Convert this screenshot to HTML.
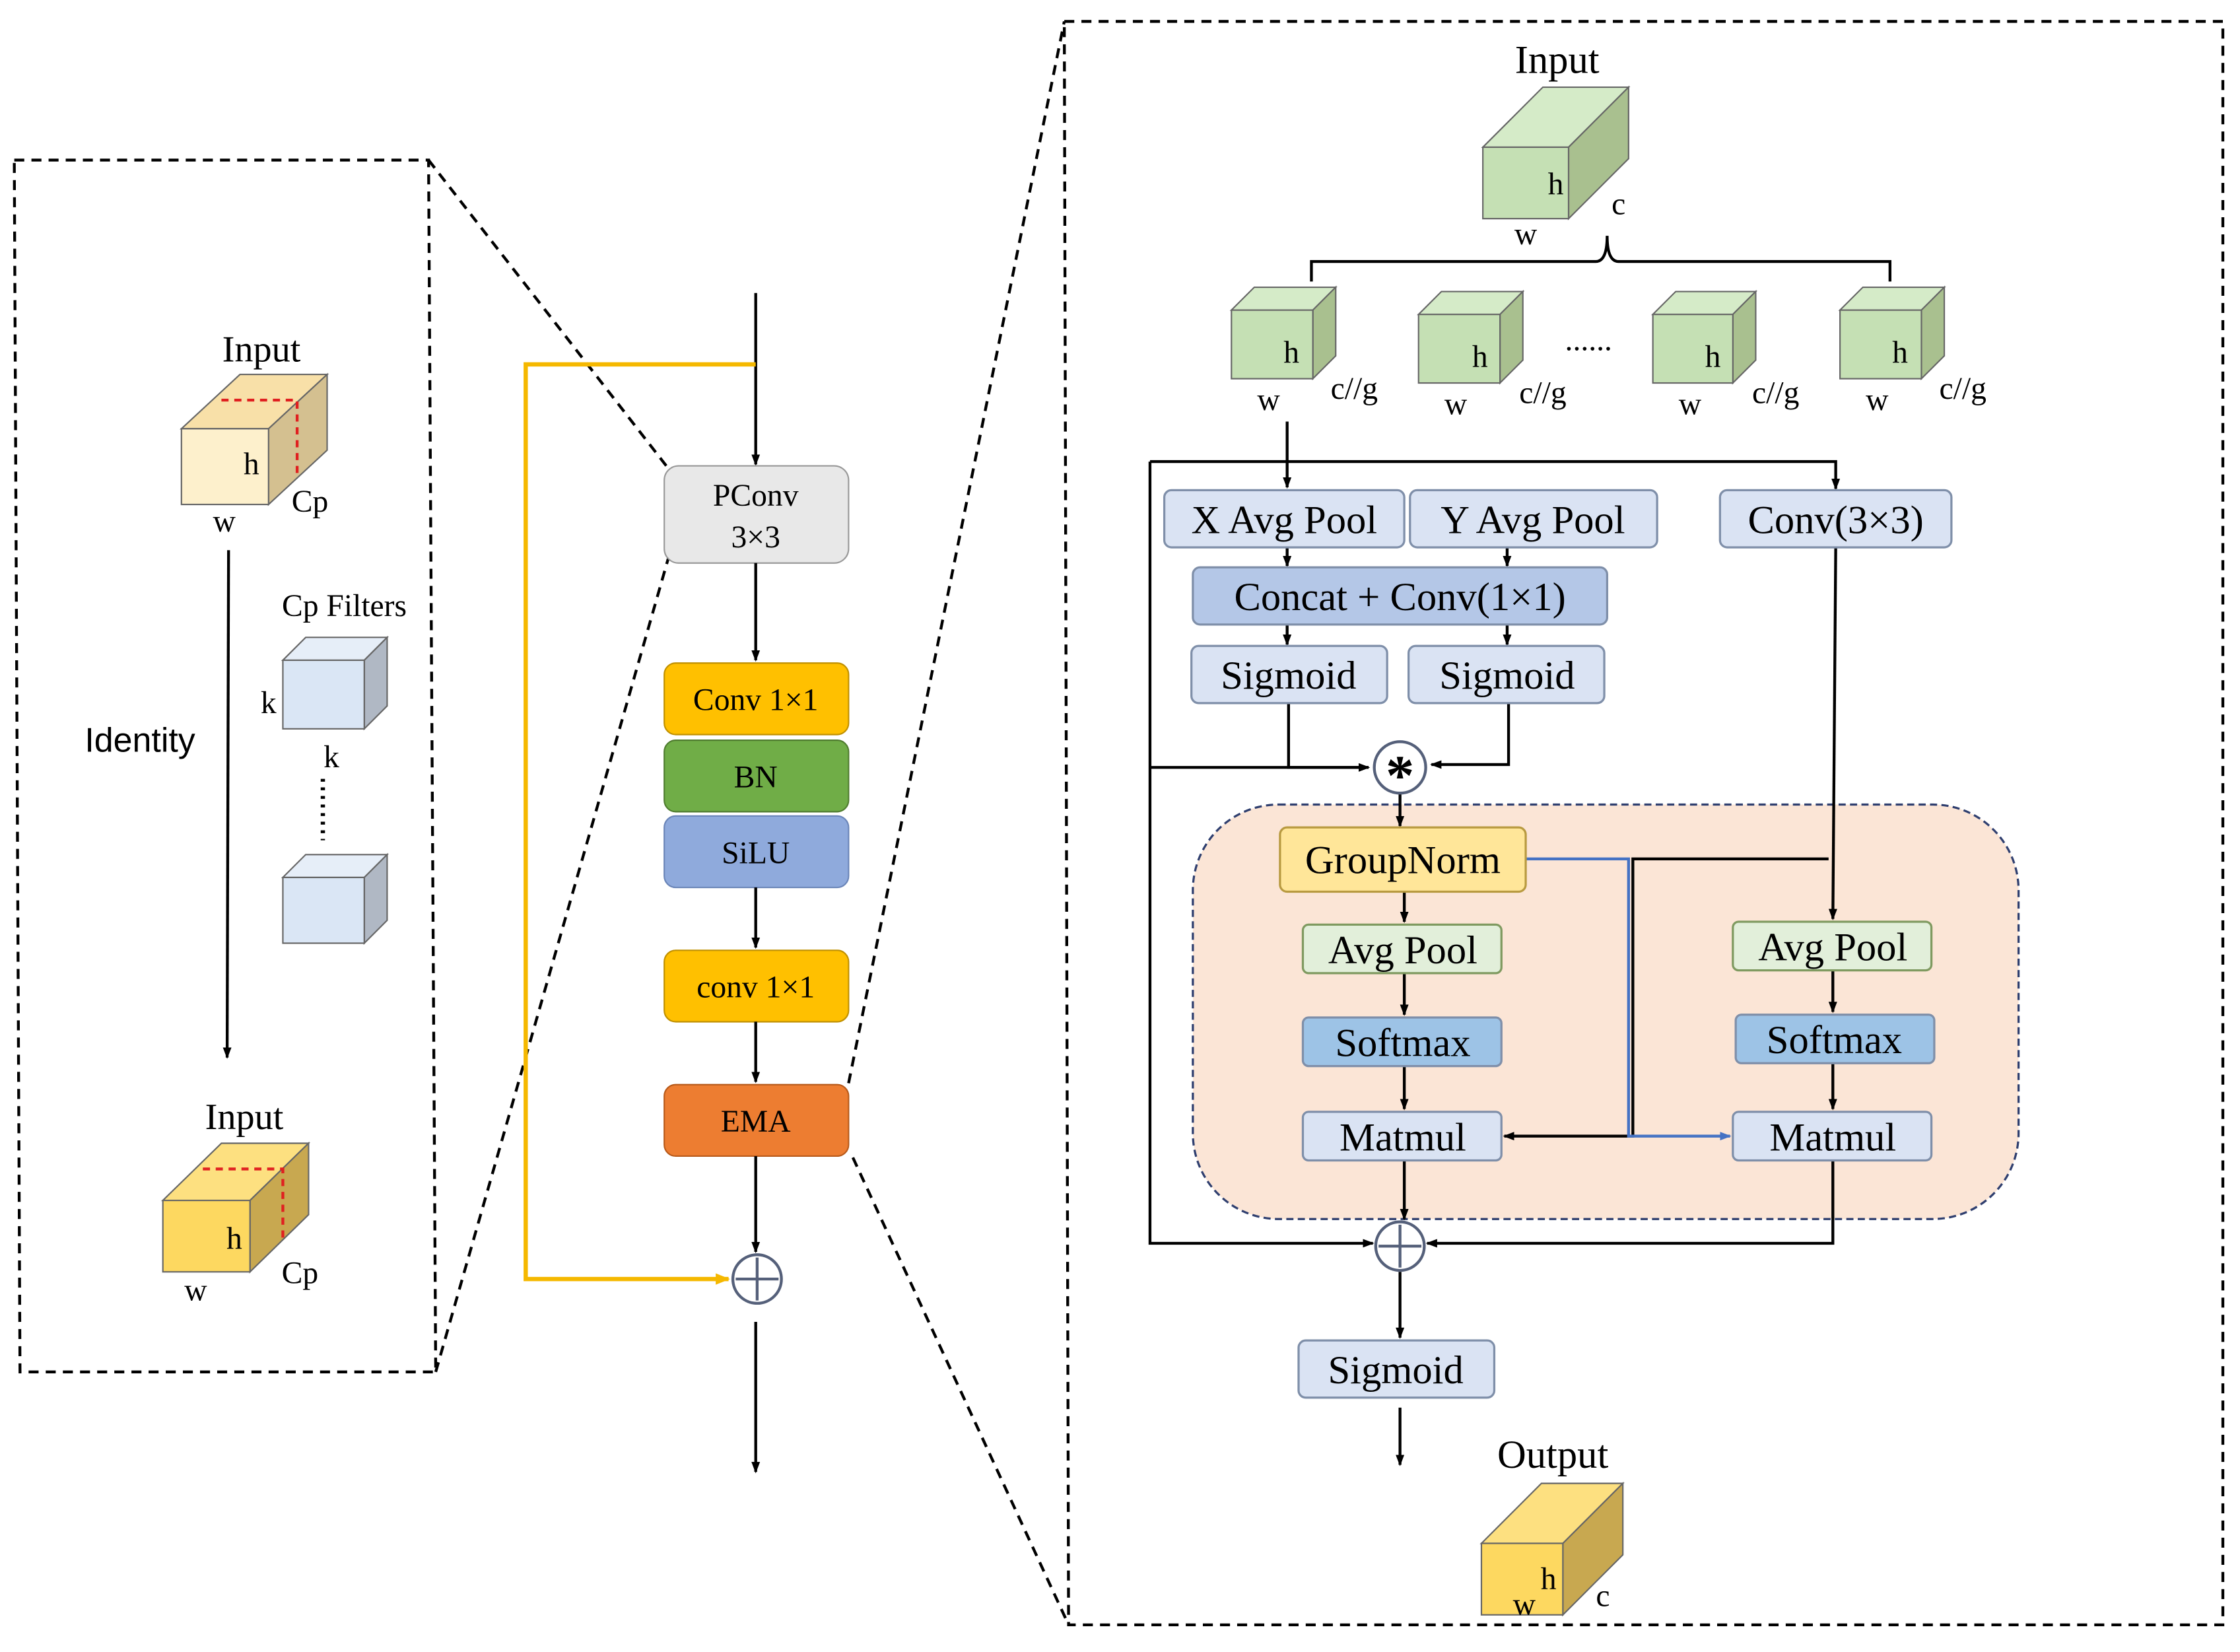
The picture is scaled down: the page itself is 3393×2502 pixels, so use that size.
<!DOCTYPE html>
<html><head><meta charset="utf-8"><style>
html,body{margin:0;padding:0;background:#fff;}
svg{display:block;}
text{font-family:"Liberation Serif",serif;fill:#000;}
</style></head><body>
<svg width="3393" height="2502" viewBox="0 0 1568 1156" preserveAspectRatio="none" xmlns="http://www.w3.org/2000/svg">
<defs>
<marker id="a" markerWidth="8" markerHeight="8" refX="7" refY="4" orient="auto" markerUnits="userSpaceOnUse"><path d="M0,1 L8,4 L0,7 z" fill="#000"/></marker>
<marker id="ab" markerWidth="8" markerHeight="8" refX="7" refY="4" orient="auto" markerUnits="userSpaceOnUse"><path d="M0,1 L8,4 L0,7 z" fill="#4472c4"/></marker>
<marker id="ay" markerWidth="10" markerHeight="10" refX="9" refY="5" orient="auto" markerUnits="userSpaceOnUse"><path d="M0,1 L10,5 L0,9 z" fill="#f5b800"/></marker>
</defs>
<rect width="1568" height="1156" fill="#fff"/>

<!-- Left dashed box -->
<g fill="none" stroke="#000" stroke-width="2" stroke-dasharray="7,5">
<path d="M10,112 L300,112 L305,960 L14,960 Z"/>
<line x1="300" y1="112" x2="468" y2="328"/>
<line x1="305" y1="960" x2="468" y2="390"/>
<line x1="594" y1="758" x2="745" y2="15"/>
<line x1="597" y1="810" x2="748" y2="1137"/>
<path d="M745,15 L1556,15 L1556,1137 L748,1137 Z"/>
</g>

<!-- Left input cube -->
<text x="183" y="253" font-size="26" text-anchor="middle">Input</text>
<polygon points="127,300 168,262 229,262 188,300" fill="#f8e0a8" stroke="#666"/>
<polygon points="188,300 229,262 229,315 188,353" fill="#d4c090" stroke="#666"/>
<rect x="127" y="300" width="61" height="53" fill="#fdf0cc" stroke="#666"/>
<path d="M155,280 L208,280 L208,333" fill="none" stroke="#e02020" stroke-width="2" stroke-dasharray="5,4"/>
<text x="176" y="332" font-size="22" text-anchor="middle">h</text>
<text x="157" y="372" font-size="22" text-anchor="middle">w</text>
<text x="217" y="358" font-size="22" text-anchor="middle">Cp</text>
<line x1="160" y1="385" x2="159" y2="740" stroke="#000" stroke-width="2" marker-end="url(#a)"/>
<text x="98" y="526" font-size="24" text-anchor="middle" style="font-family:'Liberation Sans',sans-serif">Identity</text>
<text x="241" y="431" font-size="22" text-anchor="middle">Cp Filters</text>
<polygon points="198,462 214,446 271,446 255,462" fill="#e6eef8" stroke="#666"/>
<polygon points="255,462 271,446 271,494 255,510" fill="#b0b8c4" stroke="#666"/>
<rect x="198" y="462" width="57" height="48" fill="#dae6f5" stroke="#666"/>
<text x="188" y="499" font-size="22" text-anchor="middle">k</text>
<text x="232" y="537" font-size="22" text-anchor="middle">k</text>
<line x1="226" y1="545" x2="226" y2="588" stroke="#000" stroke-width="3" stroke-dasharray="2,4"/>
<polygon points="198,614 214,598 271,598 255,614" fill="#e6eef8" stroke="#666"/>
<polygon points="255,614 271,598 271,644 255,660" fill="#b0b8c4" stroke="#666"/>
<rect x="198" y="614" width="57" height="46" fill="#dae6f5" stroke="#666"/>

<!-- Left output cube -->
<text x="171" y="790" font-size="26" text-anchor="middle">Input</text>
<polygon points="114,840 155,800 216,800 175,840" fill="#fde080" stroke="#666"/>
<polygon points="175,840 216,800 216,850 175,890" fill="#c8a850" stroke="#666"/>
<rect x="114" y="840" width="61" height="50" fill="#fdd860" stroke="#666"/>
<path d="M142,818 L198,818 L198,866" fill="none" stroke="#e02020" stroke-width="2" stroke-dasharray="5,4"/>
<text x="164" y="874" font-size="22" text-anchor="middle">h</text>
<text x="137" y="910" font-size="22" text-anchor="middle">w</text>
<text x="210" y="898" font-size="22" text-anchor="middle">Cp</text>

<!-- Middle column -->
<line x1="529" y1="205" x2="529" y2="325" stroke="#000" stroke-width="2" marker-end="url(#a)"/>
<polyline points="529,255 368,255 368,895 510,895" fill="none" stroke="#f5b800" stroke-width="3" marker-end="url(#ay)"/>
<rect x="465" y="326" width="129" height="68" rx="10" fill="#e8e8e8" stroke="#999"/>
<text x="529" y="354" font-size="22" text-anchor="middle">PConv</text>
<text x="529" y="383" font-size="22" text-anchor="middle">3×3</text>
<line x1="529" y1="394" x2="529" y2="462" stroke="#000" stroke-width="2" marker-end="url(#a)"/>
<rect x="465" y="464" width="129" height="50" rx="8" fill="#ffc000" stroke="#c09000"/>
<text x="529" y="497" font-size="22" text-anchor="middle">Conv 1×1</text>
<rect x="465" y="518" width="129" height="50" rx="8" fill="#70ad47" stroke="#507d30"/>
<text x="529" y="551" font-size="22" text-anchor="middle">BN</text>
<rect x="465" y="571" width="129" height="50" rx="8" fill="#8faadc" stroke="#6a85b8"/>
<text x="529" y="604" font-size="22" text-anchor="middle">SiLU</text>
<line x1="529" y1="621" x2="529" y2="663" stroke="#000" stroke-width="2" marker-end="url(#a)"/>
<rect x="465" y="665" width="129" height="50" rx="8" fill="#ffc000" stroke="#c09000"/>
<text x="529" y="698" font-size="22" text-anchor="middle">conv 1×1</text>
<line x1="529" y1="715" x2="529" y2="757" stroke="#000" stroke-width="2" marker-end="url(#a)"/>
<rect x="465" y="759" width="129" height="50" rx="8" fill="#ed7d31" stroke="#b85a1a"/>
<text x="529" y="792" font-size="22" text-anchor="middle">EMA</text>
<line x1="529" y1="809" x2="529" y2="876" stroke="#000" stroke-width="2" marker-end="url(#a)"/>
<circle cx="530" cy="895" r="17" fill="#fff" stroke="#55607a" stroke-width="2"/>
<path d="M530,880 V910 M515,895 H545" stroke="#55607a" stroke-width="2"/>
<line x1="529" y1="925" x2="529" y2="1030" stroke="#000" stroke-width="2" marker-end="url(#a)"/>

<!-- Right: input cube -->
<text x="1090" y="51" font-size="28" text-anchor="middle">Input</text>
<polygon points="1038,103 1080,61 1140,61 1098,103" fill="#d5ebc8" stroke="#666"/>
<polygon points="1098,103 1140,61 1140,111 1098,153" fill="#a9c08f" stroke="#666"/>
<rect x="1038" y="103" width="60" height="50" fill="#c5e0b4" stroke="#666"/>
<text x="1089" y="136" font-size="22" text-anchor="middle">h</text>
<text x="1068" y="171" font-size="22" text-anchor="middle">w</text>
<text x="1133" y="150" font-size="22" text-anchor="middle">c</text>
<path d="M918,197 V183 H1117 Q1125,183 1125,165 Q1125,183 1133,183 H1323 V197" fill="none" stroke="#000" stroke-width="2"/>

<!-- small cubes -->
<g stroke="#666">
<polygon points="862,217 878,201 935,201 919,217" fill="#d5ebc8"/>
<polygon points="919,217 935,201 935,249 919,265" fill="#a9c08f"/>
<rect x="862" y="217" width="57" height="48" fill="#c5e0b4"/>
<polygon points="993,220 1009,204 1066,204 1050,220" fill="#d5ebc8"/>
<polygon points="1050,220 1066,204 1066,252 1050,268" fill="#a9c08f"/>
<rect x="993" y="220" width="57" height="48" fill="#c5e0b4"/>
<polygon points="1157,220 1173,204 1229,204 1213,220" fill="#d5ebc8"/>
<polygon points="1213,220 1229,204 1229,252 1213,268" fill="#a9c08f"/>
<rect x="1157" y="220" width="56" height="48" fill="#c5e0b4"/>
<polygon points="1288,217 1304,201 1361,201 1345,217" fill="#d5ebc8"/>
<polygon points="1345,217 1361,201 1361,249 1345,265" fill="#a9c08f"/>
<rect x="1288" y="217" width="57" height="48" fill="#c5e0b4"/>
</g>
<g font-size="22" text-anchor="middle">
<text x="904" y="254">h</text><text x="888" y="287">w</text><text x="948" y="279">c//g</text>
<text x="1036" y="257">h</text><text x="1019" y="290">w</text><text x="1080" y="282">c//g</text>
<text x="1199" y="257">h</text><text x="1183" y="290">w</text><text x="1243" y="282">c//g</text>
<text x="1330" y="254">h</text><text x="1314" y="287">w</text><text x="1374" y="279">c//g</text>
<text x="1112" y="245">......</text>
</g>

<!-- pink region -->
<rect x="835" y="563" width="578" height="290" rx="60" fill="#fbe5d6" stroke="#2f3f6f" stroke-width="1.5" stroke-dasharray="5,3"/>

<!-- connectors -->
<g fill="none" stroke="#000" stroke-width="2">
<line x1="901" y1="295" x2="901" y2="341" marker-end="url(#a)"/>
<polyline points="805,323 1285,323 1285,342" marker-end="url(#a)"/>
<polyline points="805,323 805,870 961,870" marker-end="url(#a)"/>
<polyline points="805,537 958,537" marker-end="url(#a)"/>
<line x1="901" y1="383" x2="901" y2="396" marker-end="url(#a)"/>
<line x1="1055" y1="383" x2="1055" y2="396" marker-end="url(#a)"/>
<line x1="901" y1="437" x2="901" y2="451" marker-end="url(#a)"/>
<line x1="1055" y1="437" x2="1055" y2="451" marker-end="url(#a)"/>
<polyline points="902,492 902,537 958,537" marker-end="url(#a)"/>
<polyline points="1056,492 1056,535 1002,535" marker-end="url(#a)"/>
<line x1="980" y1="555" x2="980" y2="578" marker-end="url(#a)"/>
<polyline points="1285,383 1283,643" marker-end="url(#a)"/>
<line x1="983" y1="624" x2="983" y2="645" marker-end="url(#a)"/>
<line x1="983" y1="681" x2="983" y2="710" marker-end="url(#a)"/>
<line x1="983" y1="746" x2="983" y2="776" marker-end="url(#a)"/>
<line x1="983" y1="812" x2="983" y2="853" marker-end="url(#a)"/>
<line x1="1283" y1="679" x2="1283" y2="708" marker-end="url(#a)"/>
<line x1="1283" y1="744" x2="1283" y2="776" marker-end="url(#a)"/>
<polyline points="1283,812 1283,870 999,870" marker-end="url(#a)"/>
<polyline points="1280,601 1143,601 1143,795 1053,795" marker-end="url(#a)"/>
<line x1="980" y1="890" x2="980" y2="936" marker-end="url(#a)"/>
<line x1="980" y1="985" x2="980" y2="1025" marker-end="url(#a)"/>
</g>
<polyline points="1068,601 1140,601 1140,795 1211,795" fill="none" stroke="#4472c4" stroke-width="2" marker-end="url(#ab)"/>

<!-- boxes -->
<g stroke="#7f8fa9" stroke-width="1.5">
<rect x="815" y="343" width="168" height="40" rx="5" fill="#dae3f3"/>
<rect x="987" y="343" width="173" height="40" rx="5" fill="#dae3f3"/>
<rect x="1204" y="343" width="162" height="40" rx="5" fill="#dae3f3"/>
<rect x="835" y="397" width="290" height="40" rx="5" fill="#b4c7e7"/>
<rect x="834" y="452" width="137" height="40" rx="5" fill="#dae3f3"/>
<rect x="986" y="452" width="137" height="40" rx="5" fill="#dae3f3"/>
<rect x="896" y="579" width="172" height="45" rx="5" fill="#ffe699" stroke="#b89a40"/>
<rect x="912" y="647" width="139" height="34" rx="4" fill="#e2efda" stroke="#7f9a60"/>
<rect x="1213" y="645" width="139" height="34" rx="4" fill="#e2efda" stroke="#7f9a60"/>
<rect x="912" y="712" width="139" height="34" rx="4" fill="#9dc3e6"/>
<rect x="1215" y="710" width="139" height="34" rx="4" fill="#9dc3e6"/>
<rect x="912" y="778" width="139" height="34" rx="4" fill="#dae3f3"/>
<rect x="1213" y="778" width="139" height="34" rx="4" fill="#dae3f3"/>
<rect x="909" y="938" width="137" height="40" rx="5" fill="#dae3f3"/>
</g>
<g font-size="28" text-anchor="middle">
<text x="899" y="373">X Avg Pool</text>
<text x="1073" y="373">Y Avg Pool</text>
<text x="1285" y="373">Conv(3×3)</text>
<text x="980" y="427">Concat + Conv(1×1)</text>
<text x="902" y="482">Sigmoid</text>
<text x="1055" y="482">Sigmoid</text>
<text x="982" y="611">GroupNorm</text>
<text x="982" y="674">Avg Pool</text>
<text x="1283" y="672">Avg Pool</text>
<text x="982" y="739">Softmax</text>
<text x="1284" y="737">Softmax</text>
<text x="982" y="805">Matmul</text>
<text x="1283" y="805">Matmul</text>
<text x="977" y="968">Sigmoid</text>
</g>

<!-- star circle & plus -->
<circle cx="980" cy="537" r="18" fill="#fff" stroke="#55607a" stroke-width="2"/>
<text x="980" y="556" font-size="40" font-weight="bold" text-anchor="middle">*</text>
<circle cx="980" cy="872" r="17" fill="#fff" stroke="#55607a" stroke-width="2"/>
<path d="M980,857 V887 M965,872 H995" stroke="#55607a" stroke-width="2"/>

<!-- output cube -->
<text x="1087" y="1027" font-size="28" text-anchor="middle">Output</text>
<polygon points="1037,1080 1079,1038 1136,1038 1094,1080" fill="#fde080" stroke="#666"/>
<polygon points="1094,1080 1136,1038 1136,1088 1094,1130" fill="#c8a850" stroke="#666"/>
<rect x="1037" y="1080" width="57" height="50" fill="#fdd860" stroke="#666"/>
<text x="1084" y="1112" font-size="22" text-anchor="middle">h</text>
<text x="1067" y="1130" font-size="22" text-anchor="middle">w</text>
<text x="1122" y="1124" font-size="22" text-anchor="middle">c</text>
</svg>
</body></html>
